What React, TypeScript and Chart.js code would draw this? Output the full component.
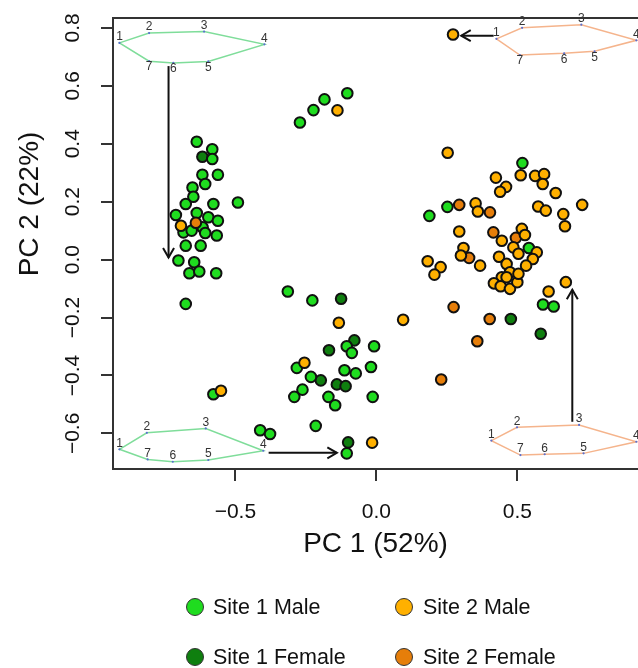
import React, { useEffect, useRef } from "react";
import { Chart, registerables } from "chart.js";

Chart.register(...registerables);

type P = [number, number];

const SERIES_LABELS = ["Site 1 Male", "Site 1 Female", "Site 2 Male", "Site 2 Female"];

const SITE1_MALE: P[] = [
  [-0.637, 0.407], [-0.582, 0.381], [-0.582, 0.347], [-0.617, 0.293], [-0.562, 0.293],
  [-0.607, 0.261], [-0.652, 0.249], [-0.649, 0.217], [-0.491, 0.197], [-0.676, 0.192],
  [-0.578, 0.192], [-0.637, 0.161], [-0.711, 0.154], [-0.596, 0.146], [-0.562, 0.134],
  [-0.684, 0.094], [-0.655, 0.100], [-0.616, 0.111], [-0.607, 0.092], [-0.566, 0.083],
  [-0.676, 0.048], [-0.623, 0.048], [-0.702, -0.003], [-0.646, -0.009], [-0.663, -0.047],
  [-0.628, -0.041], [-0.568, -0.047], [-0.676, -0.153],
  [-0.271, 0.473], [-0.223, 0.516], [-0.184, 0.553], [-0.103, 0.574],
  [-0.314, -0.110], [-0.227, -0.141], [-0.105, -0.299], [-0.087, -0.322], [-0.008, -0.299],
  [-0.282, -0.374], [-0.113, -0.382], [-0.073, -0.393], [-0.019, -0.371], [-0.232, -0.405],
  [-0.262, -0.449], [-0.291, -0.474], [-0.170, -0.474], [-0.146, -0.503], [-0.013, -0.474],
  [-0.578, -0.465], [-0.412, -0.589], [-0.377, -0.602], [-0.215, -0.574], [-0.105, -0.669],
  [0.188, 0.151], [0.252, 0.182], [0.518, 0.333], [0.541, 0.040], [0.591, -0.155], [0.629, -0.162],
];

const SITE1_FEMALE: P[] = [
  [-0.617, 0.355], [-0.125, -0.135], [-0.078, -0.279], [-0.168, -0.313], [-0.197, -0.417],
  [-0.140, -0.431], [-0.109, -0.437], [-0.100, -0.631], [0.477, -0.205], [0.583, -0.256],
];

const SITE2_MALE: P[] = [
  [-0.693, 0.117], [-0.138, 0.515], [0.272, 0.777], [-0.133, -0.218], [-0.255, -0.356],
  [-0.551, -0.453], [-0.015, -0.632], [0.095, -0.208], [0.611, -0.110], [0.672, -0.078],
  [0.253, 0.369], [0.424, 0.283], [0.512, 0.291], [0.563, 0.289], [0.595, 0.295],
  [0.590, 0.261], [0.460, 0.251], [0.439, 0.234], [0.636, 0.230], [0.352, 0.194],
  [0.360, 0.166], [0.574, 0.183], [0.601, 0.169], [0.663, 0.157], [0.669, 0.115],
  [0.730, 0.189], [0.294, 0.097], [0.445, 0.065], [0.516, 0.106], [0.527, 0.085],
  [0.486, 0.042], [0.504, 0.020], [0.569, 0.025], [0.555, 0.002], [0.531, -0.021],
  [0.309, 0.040], [0.300, 0.014], [0.368, -0.021], [0.435, 0.010], [0.462, -0.015],
  [0.474, -0.044], [0.445, -0.061], [0.417, -0.082], [0.441, -0.092], [0.474, -0.101],
  [0.500, -0.078], [0.504, -0.049], [0.462, -0.061], [0.182, -0.006], [0.228, -0.026],
  [0.206, -0.052],
];

const SITE2_FEMALE: P[] = [
  [-0.640, 0.127], [0.294, 0.189], [0.403, 0.163], [0.415, 0.094], [0.495, 0.075],
  [0.329, 0.006], [0.274, -0.164], [0.402, -0.205], [0.358, -0.282], [0.230, -0.414],
];

const X_TICKS = [-0.5, 0, 0.5];
const Y_TICKS = [-0.6, -0.4, -0.2, 0, 0.2, 0.4, 0.6, 0.8];
const X_RANGE: P = [-0.934, 0.928];
const Y_RANGE: P = [-0.723, 0.834];

const SHAPE_S1_TOP: P[] = [
  [-0.911, 0.748], [-0.806, 0.782], [-0.611, 0.787], [-0.397, 0.743], [-0.596, 0.684], [-0.720, 0.679], [-0.806, 0.685],
];
const SHAPE_S1_BOTTOM: P[] = [
  [-0.911, -0.655], [-0.814, -0.598], [-0.605, -0.583], [-0.401, -0.660], [-0.596, -0.692], [-0.722, -0.698], [-0.811, -0.690],
];
const SHAPE_S2_TOP: P[] = [
  [0.426, 0.762], [0.517, 0.800], [0.727, 0.811], [0.922, 0.757], [0.774, 0.719], [0.666, 0.712], [0.509, 0.706],
];
const SHAPE_S2_BOTTOM: P[] = [
  [0.408, -0.625], [0.499, -0.579], [0.719, -0.571], [0.922, -0.629], [0.735, -0.669], [0.597, -0.672], [0.511, -0.675],
];

const ARROW_S1_TOP: P[] = [[-0.737, 0.668], [-0.737, 0.007]];
const ARROW_S1_BOTTOM: P[] = [[-0.382, -0.667], [-0.140, -0.667]];
const ARROW_S2_TOP: P[] = [[0.416, 0.773], [0.301, 0.773]];
const ARROW_S2_BOTTOM: P[] = [[0.695, -0.560], [0.695, -0.104]];

const FONT = "'Liberation Sans', Arial, Helvetica, sans-serif";
const COLORS = ["#1fdc1f", "#0f7f0f", "#ffb000", "#e67e0a"];

const SHAPES = [
  { pts: SHAPE_S1_TOP, color: "#7fdd9a", below: [4, 5, 6] },
  { pts: SHAPE_S1_BOTTOM, color: "#7fdd9a", below: [] as number[] },
  { pts: SHAPE_S2_TOP, color: "#f5b48c", below: [4, 5, 6] },
  { pts: SHAPE_S2_BOTTOM, color: "#f5b48c", below: [] as number[] },
];
const ARROWS = [ARROW_S1_TOP, ARROW_S1_BOTTOM, ARROW_S2_TOP, ARROW_S2_BOTTOM];

const fmt = (v: number) => (v < -1e-9 ? "\u2212" : "") + Math.abs(v).toFixed(1);

const annotations = {
  id: "annotations",
  beforeDatasetsDraw(chart: any) {
    const { ctx, scales } = chart;
    const xs = scales.x, ys = scales.y;
    const px = (p: P) => [xs.getPixelForValue(p[0]), ys.getPixelForValue(p[1])];
    ctx.save();
    SHAPES.forEach((s) => {
      ctx.beginPath();
      s.pts.forEach((p, i) => {
        const [a, b] = px(p);
        if (i === 0) ctx.moveTo(a, b); else ctx.lineTo(a, b);
      });
      ctx.closePath();
      ctx.strokeStyle = s.color;
      ctx.lineWidth = 1.5;
      ctx.stroke();
      ctx.fillStyle = "#5a6fd0";
      s.pts.forEach((p) => {
        const [a, b] = px(p);
        ctx.beginPath();
        ctx.arc(a, b, 1.1, 0, Math.PI * 2);
        ctx.fill();
      });
      ctx.font = `12px ${FONT}`;
      ctx.fillStyle = "#333";
      ctx.textAlign = "center";
      ctx.textBaseline = "middle";
      s.pts.forEach((p, i) => {
        const [a, b] = px(p);
        const dy = s.below.includes(i) ? 6 : -6;
        ctx.fillText(String(i + 1), a, b + dy);
      });
    });
    ctx.strokeStyle = "#111";
    ctx.lineWidth = 2;
    ARROWS.forEach((ar) => {
      const [x1, y1] = px(ar[0]);
      const [x2, y2] = px(ar[1]);
      ctx.beginPath();
      ctx.moveTo(x1, y1);
      ctx.lineTo(x2, y2);
      ctx.stroke();
      const ang = Math.atan2(y2 - y1, x2 - x1);
      const L = 11, A = Math.PI / 6;
      ctx.beginPath();
      ctx.moveTo(x2 - L * Math.cos(ang - A), y2 - L * Math.sin(ang - A));
      ctx.lineTo(x2, y2);
      ctx.lineTo(x2 - L * Math.cos(ang + A), y2 - L * Math.sin(ang + A));
      ctx.stroke();
    });
    ctx.restore();
  },
  afterDraw(chart: any) {
    const { ctx, chartArea } = chart;
    ctx.save();
    ctx.strokeStyle = "#333";
    ctx.lineWidth = 2;
    ctx.beginPath();
    ctx.moveTo(chartArea.left - 1, chartArea.top);
    ctx.lineTo(chartArea.right, chartArea.top);
    ctx.stroke();
    ctx.translate(30, 204);
    ctx.rotate(-Math.PI / 2);
    ctx.font = `28px ${FONT}`;
    ctx.fillStyle = "#111";
    ctx.textAlign = "center";
    ctx.textBaseline = "middle";
    ctx.fillText("PC 2 (22%)", 0, 0);
    ctx.restore();
  },
};

const LEGEND_POS = [
  { cx: 195, cy: 607 },
  { cx: 195, cy: 657 },
  { cx: 404, cy: 607 },
  { cx: 404, cy: 657 },
];

export default function App() {
  const ref = useRef<HTMLCanvasElement | null>(null);

  useEffect(() => {
    if (!ref.current) return;
    Chart.defaults.font.family = FONT;
    const series = [SITE1_MALE, SITE1_FEMALE, SITE2_MALE, SITE2_FEMALE];
    const order = [2, 3, 0, 1];
    const chart = new Chart(ref.current, {
      type: "scatter",
      data: {
        datasets: series.map((s, i) => ({
          label: SERIES_LABELS[i],
          data: s.map(([x, y]) => ({ x, y })),
          backgroundColor: COLORS[i],
          borderColor: "#111",
          borderWidth: 2,
          pointRadius: 5.3,
          pointHoverRadius: 5.3,
          order: order[i],
        })),
      },
      options: {
        responsive: false,
        animation: false,
        devicePixelRatio: 1,
        layout: { autoPadding: false, padding: { top: 18, left: 0, right: 0, bottom: 0 } },
        plugins: { legend: { display: false }, tooltip: { enabled: false } },
        scales: {
          x: {
            type: "linear",
            position: "bottom",
            min: X_RANGE[0],
            max: X_RANGE[1],
            afterBuildTicks: (s: any) => { s.ticks = X_TICKS.map((v) => ({ value: v })); },
            afterFit: (s: any) => { s.height = 199; s.paddingLeft = 0; s.paddingRight = 0; },
            ticks: {
              callback: (v: any) => fmt(Number(v)),
              font: { size: 21 },
              color: "#111",
              padding: 19,
              maxRotation: 0,
              autoSkip: false,
            },
            grid: { drawOnChartArea: false, drawTicks: true, tickLength: 12, color: "#333", lineWidth: 2 },
            border: { display: true, color: "#333", width: 2 },
            title: {
              display: true,
              text: "PC 1 (52%)",
              font: { size: 28 },
              color: "#111",
              padding: { top: 0, bottom: 107 },
            },
          },
          y: {
            type: "linear",
            min: Y_RANGE[0],
            max: Y_RANGE[1],
            afterBuildTicks: (s: any) => { s.ticks = Y_TICKS.map((v) => ({ value: v })); },
            afterFit: (s: any) => { s.width = 113; s.paddingTop = 0; s.paddingBottom = 0; },
            ticks: {
              callback: (v: any) => fmt(Number(v)),
              font: { size: 21 },
              color: "#111",
              padding: 7,
              minRotation: 90,
              maxRotation: 90,
              crossAlign: "center",
              autoSkip: false,
            },
            grid: { drawOnChartArea: false, drawTicks: true, tickLength: 12, color: "#333", lineWidth: 2 },
            border: { display: true, color: "#333", width: 2 },
          },
        },
      },
      plugins: [annotations],
    } as any);
    return () => chart.destroy();
  }, []);

  return (
    <div style={{ position: "absolute", left: 0, top: 0, width: 638, height: 668, background: "#fff" }}>
      <canvas ref={ref} width={638} height={668} style={{ display: "block", width: 638, height: 668 }} />
      {SERIES_LABELS.map((label, i) => (
        <div
          key={label}
          style={{
            position: "absolute",
            left: LEGEND_POS[i].cx - 9,
            top: LEGEND_POS[i].cy - 12,
            height: 24,
            display: "flex",
            alignItems: "center",
            fontFamily: FONT,
            fontSize: 21.5,
            color: "#111",
            whiteSpace: "nowrap",
          }}
        >
          <span
            style={{
              display: "inline-block",
              width: 18,
              height: 18,
              boxSizing: "border-box",
              borderRadius: "50%",
              background: COLORS[i],
              border: "1.3px solid #333",
              marginRight: i < 2 ? 9 : 10,
            }}
          />
          <span style={{ lineHeight: "24px" }}>{label}</span>
        </div>
      ))}
    </div>
  );
}
